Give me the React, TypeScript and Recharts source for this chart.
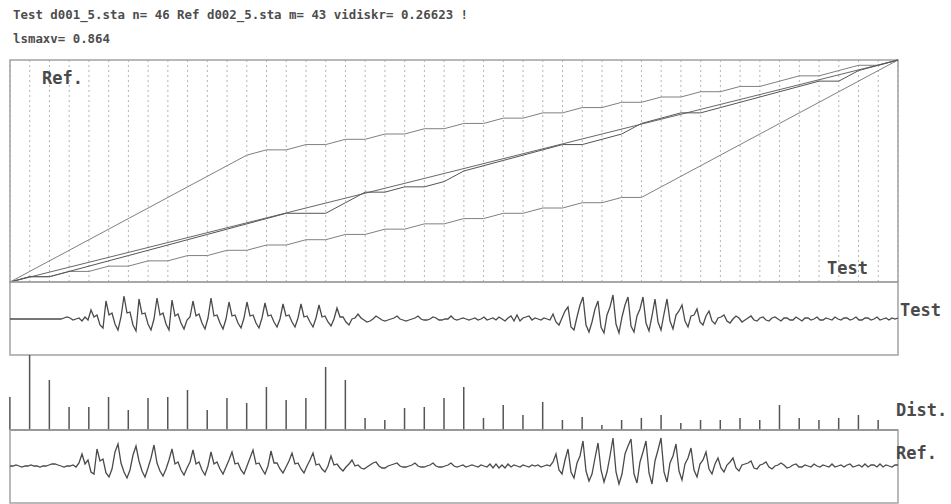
import {
  Bar,
  BarChart,
  CartesianGrid,
  Line,
  LineChart,
  ReferenceArea,
  ReferenceLine,
  XAxis,
  YAxis,
} from "recharts";

const TEST_FRAMES = 46;
const REF_FRAMES = 43;

// DTW band limits and warping path (ref frame per test frame)
const upperBound = [
  0, 2, 4, 6, 8, 10, 12, 14, 16, 18, 20, 22, 24, 25, 25, 26, 26, 27, 27, 28, 28, 29, 29, 30, 30, 31, 31,
  32, 32, 33, 33, 34, 34, 35, 35, 36, 36, 37, 37, 38, 39, 39, 40, 41, 41, 42,
];
const lowerBound = [
  0, 1, 1, 2, 2, 3, 3, 4, 4, 5, 5, 6, 6, 7, 7, 8, 8, 9, 9, 10, 10, 11, 11, 12, 12, 13, 13, 14, 14, 15, 15,
  16, 16, 18, 20, 22, 24, 26, 28, 30, 32, 34, 36, 38, 40, 42,
];
const warpPath = [
  0, 1, 1, 2, 3, 4, 5, 6, 7, 8, 9, 10, 11, 12, 13, 13, 13, 15, 17, 17, 18, 18, 19, 21, 22, 23, 24, 25, 26,
  26, 27, 28, 30, 31, 32, 32, 33, 34, 35, 36, 37, 38, 38, 40, 41, 42,
];
const diagonal = [
  { frame: 0, ref: 0 },
  { frame: TEST_FRAMES - 1, ref: REF_FRAMES - 1 },
];

// local distance per test frame
const frameDist = [
  33, 75, 50, 23, 23, 33, 20, 32, 33, 40, 20, 32, 27, 43, 30, 32, 63, 50, 12, 10, 22, 23, 32, 43, 12, 25,
  15, 28, 10, 13, 5, 10, 12, 15, 7, 10, 10, 12, 10, 25, 12, 10, 12, 15, 10,
];

// waveforms
const testWave = [
  0, 0, 0, 0, 0, 0, 0, 0, 0, 0, 0, 0, 0, 0, 0, 0, 0,
  0, 1, 2, 1, -1, 0, 1, -2, 2, -1,
  9, 2, 4, -6, -9,
  18, 4, 6, -5, -11, 2,
  23, 6, 7, -6, -12,
  20, 5, 6, -5, -11, 0,
  21, 4, 6, -5, -11,
  19, 3, 5, -4, -10, -1, 2,
  18, 3, 5, -4, -10, 1,
  21, 3, 4, -4, -10, 0,
  17, 3, 4, -4, -9, 1,
  17, 3, 4, -4, -9, 1,
  16, 3, 4, -3, -8, 0,
  15, 3, 4, -3, -8, 1,
  15, 2, 3, -3, -8, 1,
  14, 2, 3, -3, -7, 0,
  11, 2, 2, -3, -6, 0, 1,
  5, 1, -1, -3, -2, 0,
  3, 1, -1, -2, -1, 0, 1,
  3, 0, -1, -2, -1, 0, 1,
  3, 0, -1, -1, 0,
  2, 1, -1, -1, 0, 0,
  3, 0,
  -1, 0, 1, 0, -1, 0, 1, -1, 0, 2, -1, 0, 1, -1, 2, 0, -2, 1, 3, -2, 4, -2, 1, 2, 3, -1, 1, 0, -1, 1, 0, -1,
  5, -3, -6, 1, 8, 12, -8, -11, 2, 14,
  22, -6, -13, -3, 10, 18, -8, -14, 4, 12,
  24, -5, -14, 2, 14, 22, -7, -13, 3, 10,
  22, -4, -12, 3, 20, -3, -11, 5, 20, -2,
  -10, 4, 8, 14, -2, -8, 3, 4, 10, -3,
  -6, 3, 8, -2, -5, 1, 2, 4, -2, -4,
  0, 3, 1, -3, -1, 1, 3, -1, -2, 1,
  2, -1, -2, 1, 2, 0, -2, 1, 1, -1,
  -1, 2, 0, -2, 1, 1, -1, 0, 2, -1,
  -1, 1, 0, -1, 2, 0, -1, 1, 1, -1,
  0, 2, -1, -1, 1, 1, -1, 0, 2, -1,
  0, 1, -1, 1, 0, 1,
];
const refWave = [
  0, 0, 1, 0, -1, 0, 0, 1, 0, 0, -1, 0, 0,
  1, 2, 2, 1, 0, -1, 0, 0, 1, -1,
  3, 12, 2, 6, -6, -8,
  17, 5, 7, -7, -11, -3,
  14, 22, 3, -6, -12, -4,
  11, 20, 5, -5, -11, -2,
  8, 21, 3, -5, -10, -3,
  6, 17, 2, 4, -4, -9, -2,
  4, 16, 2, 4, -4, -9, 0,
  14, 2, 4, -3, -8, -1,
  6, 14, 2, 3, -4, -8, 0,
  8, 16, 2, 3, -3, -8, 0,
  15, 3, 3, -3, -7, -1,
  5, 13, 2, 3, -3, -7, 0,
  6, 13, 1, 2, -3, -6, 0,
  10, 1, 2, -2, -5, -1,
  2, 6, 0, 1, -2, -3, -1,
  1, 3, 4, 0, -2, -2, 0,
  1, 2, 3, 0, -1, -1, 0,
  1, 3, 0, -1, -1, 0,
  1, 3, 0, -1, -1, 0,
  1, 3, 0,
  -1, 0, 1, -1, 0, 1, 0, -1, 1, 0, -1, 2, -2, 2, -2, 1, -2, 2, -1, 1, 0, -1, 1, 0, -1, 1, 0, 1, -1, 0, 1, 0,
  4, 12, -4, -8, 6, 17, -6, -12, 3, 10,
  25, -5, -15, -8, 8, 23, -4, -16, -6, 10,
  28, -6, -18, -8, 12, 20, 27, -8, -17, 4,
  14, 25, -7, -18, 5, 16, 28, -6, -16, 3,
  10, 22, -5, -14, 2, 8, 18, -4, -11, 2,
  6, 14, -3, -8, 2, 8, -2, -6, 1, 4,
  8, -2, -5, 1, 2, 3, 5, -2, -3, 1,
  2, 4, -1, -3, 0, 1, 3, 1, -2, -1,
  1, 2, -1, -1, 1, 0, -1, 2, 0, -1,
  1, 0, -1, 2, -1, 0, 1, -1, 1, 2,
  -1, 0, 1, -1, 2, -1, 1, 1, -1, 2,
  -1, 1, 0, -1, 1, 1,
];

const titleLine1 = "Test d001_5.sta n= 46 Ref d002_5.sta m= 43 vidiskr= 0.26623 !";
const titleLine2 = "lsmaxv= 0.864";

const frameTicks = Array.from({ length: TEST_FRAMES }, (_, i) => i);
const warpData = upperBound.map((u, i) => ({
  frame: i,
  upper: u,
  lower: lowerBound[i],
  path: warpPath[i],
}));
const distData = frameDist.map((d, i) => ({ frame: i, dist: d }));
const testData = testWave.map((v, k) => ({ k, v }));
const refData = refWave.map((v, k) => ({ k, v }));

const M = { top: 2, right: 2, bottom: 2, left: 2 };
const PLOT_W = 888;
const BOX = "#a3a3a3";
const INK = "#4a4a4a";
const mono = "'DejaVu Sans Mono', 'Liberation Mono', monospace";

function place(x: number, y: number): React.CSSProperties {
  return { position: "absolute", left: x - 2, top: y - 2 };
}

function Label({ x, y, text, size = 17 }: { x: number; y: number; text: string; size?: number }) {
  return (
    <div
      style={{
        position: "absolute",
        left: x,
        top: y - 10,
        height: 20,
        lineHeight: "20px",
        fontFamily: mono,
        fontSize: size,
        fontWeight: "bold",
        color: "#4a4a4a",
        whiteSpace: "pre",
      }}
    >
      {text}
    </div>
  );
}

function Wave({ data, top, height, domain }: { data: { k: number; v: number }[]; top: number; height: number; domain: [number, number] }) {
  return (
    <div style={place(10, top)}>
      <LineChart width={PLOT_W + 4} height={height + 4} data={data} margin={M}>
        <XAxis type="number" dataKey="k" domain={[0, data.length - 1]} hide />
        <YAxis type="number" domain={domain} hide allowDataOverflow />
        <ReferenceArea x1={0} x2={data.length - 1} y1={domain[0]} y2={domain[1]} fill="none" stroke={BOX} strokeWidth={1.5} />
        <Line type="linear" dataKey="v" stroke={INK} strokeWidth={1.3} dot={false} isAnimationActive={false} />
      </LineChart>
    </div>
  );
}

export default function App() {
  return (
    <div style={{ position: "absolute", left: 0, top: 0, width: 951, height: 504, background: "#fff", overflow: "hidden" }}>
      <div
        style={{
          position: "absolute",
          left: 13,
          top: 3,
          fontFamily: mono,
          fontSize: 12.4,
          fontWeight: "bold",
          lineHeight: "23.5px",
          color: "#4d4d4d",
          whiteSpace: "pre",
        }}
      >
        <div>{titleLine1}</div>
        <div>{titleLine2}</div>
      </div>

      {/* warping plane */}
      <div style={place(10, 60)}>
        <LineChart width={PLOT_W + 4} height={222 + 4} data={warpData} margin={M}>
          <CartesianGrid horizontal={false} stroke="#b4b4b4" strokeDasharray="2 3" />
          <XAxis type="number" dataKey="frame" domain={[0, TEST_FRAMES - 1]} ticks={frameTicks} interval={0} hide />
          <YAxis type="number" domain={[0, REF_FRAMES - 1]} hide />
          <ReferenceArea x1={0} x2={TEST_FRAMES - 1} y1={0} y2={REF_FRAMES - 1} fill="none" stroke={BOX} strokeWidth={1.5} />
          <Line type="linear" dataKey="upper" stroke="#808080" strokeWidth={1} dot={false} isAnimationActive={false} />
          <Line type="linear" dataKey="lower" stroke="#808080" strokeWidth={1} dot={false} isAnimationActive={false} />
          <Line type="linear" data={diagonal} dataKey="ref" stroke="#666" strokeWidth={1} dot={false} isAnimationActive={false} />
          <Line type="linear" dataKey="path" stroke="#555" strokeWidth={1} dot={false} isAnimationActive={false} />
        </LineChart>
      </div>

      <Wave data={testData} top={282} height={73} domain={[-36, 37]} />

      {/* frame distances */}
      <div style={place(10, 355)}>
        <BarChart width={PLOT_W + 4} height={75 + 4} data={distData} margin={M}>
          <XAxis type="number" dataKey="frame" domain={[0, TEST_FRAMES - 1]} hide />
          <YAxis type="number" domain={[0, 75]} hide />
          <Bar dataKey="dist" fill="#555" barSize={1.5} isAnimationActive={false} />
          <ReferenceLine y={0} stroke="#555" strokeWidth={1.5} />
        </BarChart>
      </div>

      <Wave data={refData} top={430} height={73} domain={[-37, 36]} />

      <Label x={42} y={78} text="Ref." />
      <Label x={827} y={268} text="Test" />
      <Label x={900} y={310} text="Test" />
      <Label x={896} y={410} text="Dist." />
      <Label x={896} y={453} text="Ref." />
    </div>
  );
}
